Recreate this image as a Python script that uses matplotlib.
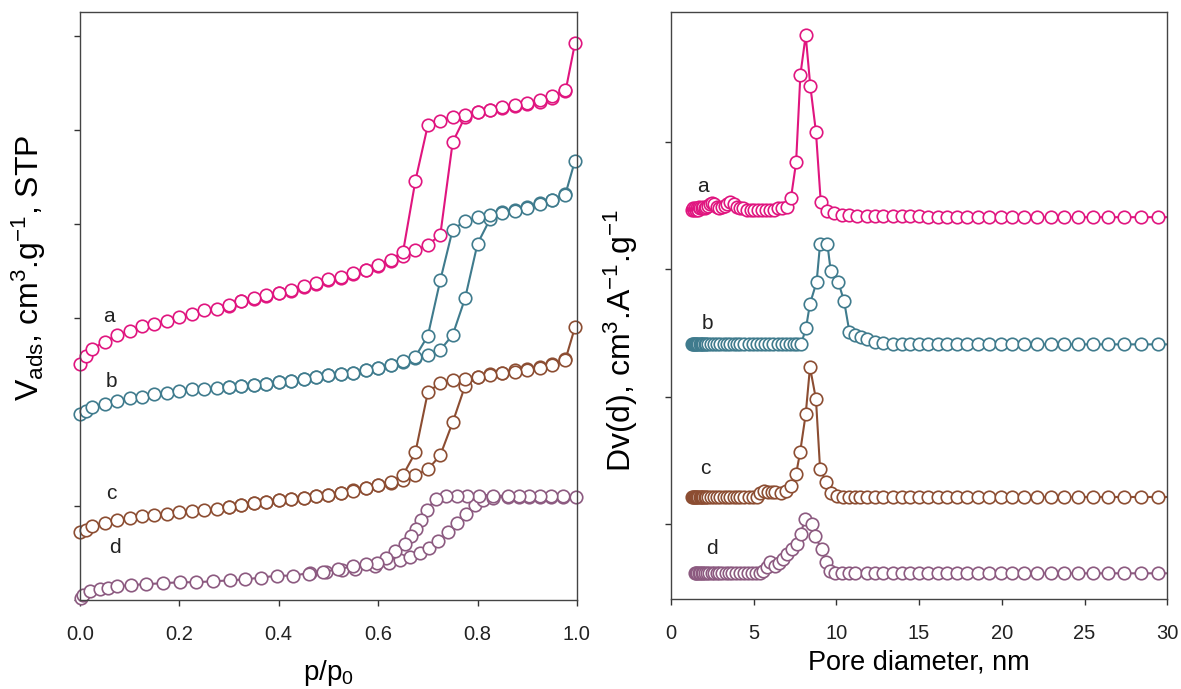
import numpy as np
import matplotlib
matplotlib.use('Agg')
import matplotlib.pyplot as plt

plt.rcParams['font.family'] = ['Liberation Sans', 'DejaVu Sans']
plt.rcParams['mathtext.default'] = 'regular'

# colours of the four samples
col_a = '#e0157f'
col_b = '#3f7b8d'
col_c = '#8c4d32'
col_d = '#8c5a80'

# ---- left panel: N2 isotherms (arbitrary offset units) ----
x_ads = [0.0, 0.012, 0.024, 0.05, 0.075, 0.10, 0.125, 0.15, 0.175, 0.20, 0.225, 0.25, 0.275, 0.30,
         0.325, 0.35, 0.375, 0.40, 0.425, 0.45, 0.475, 0.50, 0.525, 0.55, 0.575, 0.60, 0.625, 0.65,
         0.675, 0.70, 0.725, 0.75, 0.775, 0.80, 0.825, 0.85, 0.875, 0.90, 0.925, 0.95, 0.977, 0.996]
x_des = [0.977, 0.95, 0.925, 0.90, 0.875, 0.85, 0.825, 0.80, 0.775, 0.75, 0.725, 0.70, 0.675, 0.65,
         0.625, 0.60, 0.575, 0.55, 0.525, 0.50, 0.475, 0.45, 0.425, 0.40, 0.375, 0.35, 0.325, 0.30]

a_ads = [2.51, 2.60, 2.67, 2.75, 2.82, 2.86, 2.91, 2.94, 2.97, 3.01, 3.04, 3.08, 3.10, 3.13,
         3.18, 3.20, 3.23, 3.27, 3.29, 3.33, 3.36, 3.40, 3.43, 3.47, 3.51, 3.55, 3.61, 3.66,
         3.72, 3.78, 3.88, 4.87, 5.14, 5.19, 5.21, 5.23, 5.25, 5.28, 5.30, 5.34, 5.41, 5.92]
a_des = [5.42, 5.36, 5.32, 5.29, 5.26, 5.24, 5.21, 5.19, 5.16, 5.14, 5.10, 5.05, 4.46, 3.70,
         3.62, 3.56, 3.51, 3.48, 3.44, 3.41, 3.37, 3.34, 3.30, 3.27, 3.24, 3.21, 3.18, 3.14]

b_ads = [1.98, 2.01, 2.05, 2.09, 2.12, 2.15, 2.16, 2.19, 2.20, 2.22, 2.24, 2.25, 2.26, 2.27,
         2.28, 2.29, 2.30, 2.32, 2.33, 2.35, 2.37, 2.39, 2.40, 2.42, 2.45, 2.47, 2.50, 2.53,
         2.57, 2.61, 2.66, 2.82, 3.21, 3.79, 4.05, 4.13, 4.15, 4.18, 4.22, 4.26, 4.32, 4.67]
b_des = [4.31, 4.25, 4.21, 4.17, 4.14, 4.12, 4.10, 4.07, 4.03, 3.94, 3.40, 2.81, 2.59, 2.54,
         2.50, 2.47, 2.45, 2.42, 2.40, 2.39, 2.37, 2.35, 2.33, 2.32, 2.30, 2.29, 2.28, 2.27]

c_ads = [0.72, 0.75, 0.79, 0.82, 0.85, 0.87, 0.89, 0.91, 0.92, 0.94, 0.95, 0.96, 0.97, 0.99,
         1.01, 1.03, 1.04, 1.06, 1.08, 1.09, 1.11, 1.12, 1.14, 1.17, 1.19, 1.22, 1.25, 1.28,
         1.33, 1.39, 1.54, 1.89, 2.28, 2.37, 2.40, 2.42, 2.45, 2.46, 2.48, 2.51, 2.56, 2.90]
c_des = [2.55, 2.50, 2.47, 2.45, 2.43, 2.41, 2.39, 2.37, 2.35, 2.34, 2.31, 2.21, 1.57, 1.33,
         1.26, 1.22, 1.19, 1.16, 1.14, 1.12, 1.11, 1.09, 1.08, 1.06, 1.04, 1.03, 1.01, 0.99]

xd_ads = [0.003, 0.007, 0.021, 0.04, 0.057, 0.074, 0.102, 0.133, 0.168, 0.201, 0.233, 0.267, 0.302,
          0.332, 0.364, 0.397, 0.429, 0.463, 0.496, 0.528, 0.553, 0.593, 0.621, 0.644, 0.665, 0.684,
          0.703, 0.721, 0.741, 0.758, 0.777, 0.795, 0.811, 0.832, 0.862, 0.884, 0.904, 0.926, 0.947,
          0.972, 0.998]
d_ads = [0.02, 0.05, 0.10, 0.12, 0.13, 0.145, 0.16, 0.17, 0.18, 0.19, 0.19, 0.20, 0.21,
         0.22, 0.24, 0.26, 0.26, 0.29, 0.30, 0.32, 0.33, 0.36, 0.39, 0.43, 0.46, 0.50,
         0.55, 0.63, 0.72, 0.82, 0.92, 1.01, 1.07, 1.09, 1.10, 1.10, 1.10, 1.10, 1.10,
         1.10, 1.10]
xd_des = [0.972, 0.947, 0.926, 0.904, 0.884, 0.862, 0.832, 0.803, 0.779, 0.758, 0.736, 0.716, 0.698,
          0.686, 0.677, 0.667, 0.655, 0.634, 0.616, 0.597, 0.575, 0.55, 0.52, 0.49, 0.46]
d_des = [1.11, 1.11, 1.11, 1.11, 1.11, 1.11, 1.11, 1.11, 1.11, 1.11, 1.11, 1.08, 0.96,
         0.85, 0.76, 0.68, 0.60, 0.52, 0.45, 0.40, 0.38, 0.36, 0.33, 0.30, 0.28]

# ---- right panel: pore size distributions ----
tail_x = [11.88, 12.34, 12.84, 13.41, 13.95, 14.45, 15.01, 15.56, 16.12, 16.70, 17.31, 17.91, 18.58,
          19.23, 19.93, 20.63, 21.36, 22.14, 22.95, 23.75, 24.62, 25.52, 26.43, 27.39, 28.39, 29.42,
          30.45]

pa_x = [1.26, 1.32, 1.38, 1.44, 1.50, 1.57, 1.64, 1.71, 1.79, 1.87, 1.96, 2.05, 2.15, 2.26, 2.38,
        2.50, 2.63, 2.77, 2.92, 3.08, 3.25, 3.42, 3.60, 3.79, 3.98, 4.18, 4.39, 4.60, 4.82, 5.04,
        5.27, 5.50, 5.74, 5.98, 6.23, 6.48, 6.74, 7.00, 7.26, 7.57, 7.83, 8.15, 8.43, 8.77, 9.06,
        9.42, 9.88, 10.33, 10.79, 11.23] + tail_x
pa_y = [3.47, 3.48, 3.47, 3.48, 3.47, 3.48, 3.47, 3.49, 3.48, 3.48, 3.49, 3.48, 3.49, 3.50, 3.51,
        3.52, 3.51, 3.49, 3.48, 3.49, 3.50, 3.51, 3.53, 3.51, 3.49, 3.48, 3.48, 3.47, 3.47, 3.47,
        3.47, 3.47, 3.47, 3.47, 3.47, 3.48, 3.48, 3.49, 3.56, 3.84, 4.53, 4.84, 4.44, 4.08, 3.53,
        3.46, 3.44, 3.43, 3.43, 3.42, 3.42, 3.42, 3.42, 3.42, 3.42, 3.42, 3.42, 3.41, 3.41, 3.41,
        3.41, 3.41, 3.41, 3.41, 3.41, 3.41, 3.41, 3.41, 3.41, 3.41, 3.41, 3.41, 3.41, 3.41, 3.41,
        3.41, 3.41]

pb_x = [1.30, 1.36, 1.42, 1.48, 1.54, 1.60, 1.67, 1.74, 1.81, 1.89, 1.97, 2.06, 2.15, 2.25, 2.40,
        2.60, 2.80, 3.00, 3.20, 3.40, 3.60, 3.80, 4.00, 4.20, 4.45, 4.70, 4.95, 5.20, 5.45, 5.70,
        5.95, 6.20, 6.45, 6.70, 6.95, 7.20, 7.45, 7.65, 7.87, 8.17, 8.41, 8.81, 9.02, 9.46, 9.66,
        10.12, 10.47, 10.79, 11.13, 11.47] + tail_x
pb_y = [2.41] * 39 + [2.54, 2.73, 2.90, 3.20, 3.20, 2.99, 2.90, 2.75, 2.51, 2.48, 2.47,
                      2.45, 2.43, 2.42] + [2.41] * 24

pc_x = [1.30, 1.36, 1.42, 1.48, 1.54, 1.60, 1.67, 1.74, 1.81, 1.89, 1.97, 2.06, 2.15, 2.25, 2.40,
        2.60, 2.80, 3.00, 3.20, 3.40, 3.60, 3.80, 4.00, 4.20, 4.45, 4.70, 4.95, 5.20, 5.40, 5.65,
        5.90, 6.10, 6.30, 6.64, 6.96, 7.24, 7.57, 7.81, 8.15, 8.41, 8.77, 9.02, 9.38, 9.66, 10.02,
        10.40, 10.75, 11.10, 11.45] + tail_x
pc_y = [1.21] * 28 + [1.24, 1.26, 1.25, 1.25, 1.25, 1.24, 1.26, 1.30, 1.39, 1.56, 1.86, 2.23,
                      1.98, 1.43, 1.33, 1.24, 1.22] + [1.21] * 31

pd_x = [1.45, 1.52, 1.60, 1.68, 1.77, 1.86, 1.96, 2.07, 2.19, 2.32, 2.46, 2.61, 2.77, 2.94, 3.12,
        3.31, 3.51, 3.72, 3.94, 4.17, 4.41, 4.65, 4.90, 5.15, 5.39, 5.58, 5.83, 6.02, 6.30, 6.55,
        6.80, 7.05, 7.33, 7.60, 7.85, 8.11, 8.51, 8.71, 9.12, 9.38, 9.62, 9.95, 10.35, 10.75,
        11.15] + tail_x
pd_y = [0.61] * 25 + [0.63, 0.66, 0.70, 0.67, 0.69, 0.72, 0.76, 0.80, 0.84, 0.92, 1.04, 1.00,
                      0.90, 0.80, 0.70, 0.63] + [0.61] * 31

fig = plt.figure(figsize=(11.81, 6.89), dpi=100)
ax1 = fig.add_axes([0.0677, 0.129, 0.4208, 0.853])
ax2 = fig.add_axes([0.568, 0.131, 0.4204, 0.851])

mk = dict(marker='o', markersize=9, markerfacecolor='white', markeredgewidth=1.2, linewidth=1.5)

for xs, ys, c in [(x_ads, a_ads, col_a), (x_des, a_des, col_a),
                  (x_ads, b_ads, col_b), (x_des, b_des, col_b),
                  (x_ads, c_ads, col_c), (x_des, c_des, col_c),
                  (xd_ads, d_ads, col_d), (xd_des, d_des, col_d)]:
    ax1.plot(xs, ys, color=c, markeredgecolor=c, clip_on=False, **mk)

for xs, ys, c in [(pa_x, pa_y, col_a), (pb_x, pb_y, col_b), (pc_x, pc_y, col_c), (pd_x, pd_y, col_d)]:
    ax2.plot(xs, ys, color=c, markeredgecolor=c, **mk)

ax1.set_xlim(0, 1.0)
ax1.set_ylim(0, 6.25)
ax1.set_xticks([0.0, 0.2, 0.4, 0.6, 0.8, 1.0])
ax1.set_xticklabels(['0.0', '0.2', '0.4', '0.6', '0.8', '1.0'])
ax1.set_yticks([0, 1, 2, 3, 4, 5, 6])
ax1.set_yticklabels([])
ax1.set_xlabel('p/p$_0$', fontsize=20, labelpad=10)
ax1.set_ylabel('V$_{ads}$, cm$^3$.g$^{-1}$, STP', fontsize=23, labelpad=5)
ax1.yaxis.label.set_y(0.565)

ax2.set_xlim(0, 30)
ax2.set_ylim(0.41, 5.02)
ax2.set_xticks([0, 5, 10, 15, 20, 25, 30])
ax2.set_yticks([1, 2, 3, 4])
ax2.set_yticklabels([])
ax2.set_xlabel('Pore diameter, nm', fontsize=19.5, labelpad=5)
ax2.set_ylabel('Dv(d), cm$^3$.A$^{-1}$.g$^{-1}$', fontsize=23, labelpad=4)
ax2.yaxis.label.set_y(0.44)

for ax in (ax1, ax2):
    ax.tick_params(direction='out', length=4, width=1, colors='#333333', labelsize=14.5, pad=14)
    ax.tick_params(axis='x', labelcolor='#222222')
    for s in ax.spines.values():
        s.set_color('#444444')
        s.set_linewidth(1.0)

for txt, xx, yy in [('a', 0.059, 2.92), ('b', 0.064, 2.22), ('c', 0.064, 1.03), ('d', 0.07, 0.46)]:
    ax1.text(xx, yy, txt, fontsize=15, color='#222222', ha='center', va='bottom')
for txt, xx, yy in [('a', 1.97, 3.58), ('b', 2.24, 2.50), ('c', 2.1, 1.36), ('d', 2.5, 0.73)]:
    ax2.text(xx, yy, txt, fontsize=15, color='#222222', ha='center', va='bottom')

fig.savefig('out.png', dpi=100)
